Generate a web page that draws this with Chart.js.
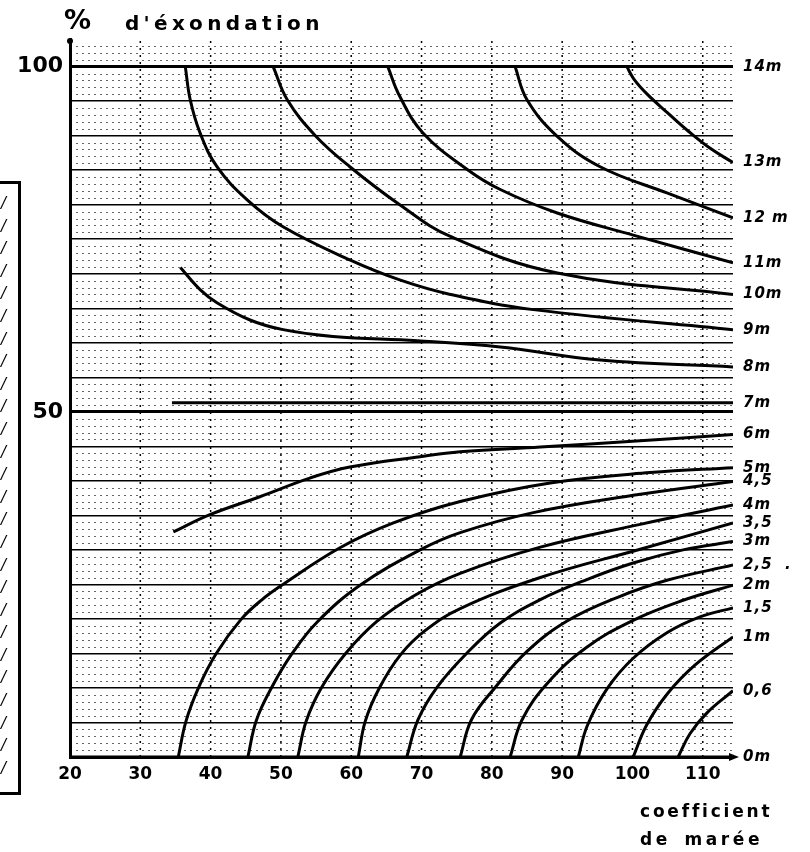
<!DOCTYPE html>
<html>
<head>
<meta charset="utf-8">
<script src="https://cdn.jsdelivr.net/npm/chart.js@4.4.0/dist/chart.umd.min.js"></script>
<style>
  body { margin: 0; background: #fff; }
  #wrap { position: relative; width: 810px; height: 852px; overflow: hidden; background: #fff; }
  canvas { position: absolute; left: 0; top: 0; }
  .t { position: absolute; font-family: 'DejaVu Sans', sans-serif; font-weight: bold; color: #000; white-space: pre; line-height: 1; }
  #side { position: absolute; left: -12px; top: 181px; width: 33px; height: 614px; border: 3px solid #000;
          font-family: 'DejaVu Sans', sans-serif; font-style: italic; font-size: 15px; line-height: 22.6px;
          padding: 8px 0 0 10px; box-sizing: border-box; white-space: pre; }
</style>
</head>
<body>
<div id="wrap">
  <canvas id="graphic1" width="810" height="852"></canvas>
  <div class="t" style="left:64px; top:6px; font-size:27px;">%</div>
  <div class="t" style="left:125px; top:13px; font-size:20px; letter-spacing:4.3px;">d'éxondation</div>
  <div class="t" style="left:640px; top:803px; font-size:17px; letter-spacing:2.8px;">coefficient</div>
  <div class="t" style="left:640px; top:831px; font-size:17px; letter-spacing:3.6px; word-spacing:4px;">de marée</div>
  <div id="side"></div>
</div>
<script>
// axes
const xTicks = [20, 30, 40, 50, 60, 70, 80, 90, 100, 110];
const xDotted = [30, 40, 50, 60, 70, 80, 90, 100, 110];
const yGrid = [0, 5, 10, 15, 20, 25, 30, 35, 40, 45, 50, 55, 60, 65, 70, 75, 80, 85, 90, 95, 100];
const yLabelled = [50, 100];

// courbes : hauteur d'eau -> % d'exondation selon le coefficient
const h14_x = [20, 114.3];
const h14_y = [100, 100];
const h13_x = [99.2, 100.2, 102.2, 105.0, 108.0, 111.0, 114.3];
const h13_y = [100, 98.2, 95.9, 93.3, 90.6, 88.2, 86.1];
const h12_x = [83.3, 85.0, 89.3, 95.4, 104.9, 114.3];
const h12_y = [100, 95.2, 89.9, 85.5, 81.7, 78.1];
const h11_x = [65.2, 66.9, 70.2, 76.5, 81.2, 89.3, 100.1, 114.3];
const h11_y = [100, 95.7, 90.4, 85.1, 82.2, 78.8, 75.6, 71.6];
const h10_x = [48.9, 50.9, 54.9, 59.8, 66.9, 74.1, 89.3, 114.3];
const h10_y = [100, 95.2, 90.0, 85.5, 80.0, 75.4, 70.1, 67.0];
const h9_x = [36.4, 37.1, 38.5, 40.9, 45.2, 50.3, 59.8, 66.9, 74.1, 85.9, 114.3];
const h9_y = [100, 95.2, 90.4, 85.5, 80.7, 76.8, 72.0, 69.1, 67.0, 64.8, 61.9];
const h8_x = [35.7, 38.5, 40.9, 45.6, 50.3, 57.4, 69.4, 81.2, 95.4, 114.3];
const h8_y = [70.9, 67.7, 65.8, 63.3, 61.9, 60.9, 60.3, 59.4, 57.5, 56.5];
const h7_x = [34.5, 114.3];
const h7_y = [51.3, 51.3];
const h6_x = [34.7, 39.9, 47.0, 54.1, 59.8, 69.8, 75.5, 86.9, 101.1, 114.3];
const h6_y = [32.6, 35.1, 37.7, 40.4, 42.0, 43.5, 44.2, 44.9, 45.8, 46.7];
const h5_x = [35.4, 36.5, 38.3, 40.8, 44.3, 47.2, 50.3, 58.4, 66.0, 75.5, 88.3, 102.5, 114.3];
const h5_y = [0, 5.2, 10.1, 15.0, 19.9, 22.7, 25.0, 30.3, 33.9, 37.0, 39.7, 41.2, 41.9];
const h45_x = [45.3, 46.5, 48.7, 51.6, 55.2, 61.3, 69.8, 75.5, 85.9, 100.1, 114.3];
const h45_y = [0, 5.3, 10.1, 15.0, 19.6, 24.9, 30.0, 32.5, 35.4, 37.9, 39.9];
const h4_x = [52.4, 53.6, 55.8, 59.2, 63.6, 69.0, 75.5, 86.9, 101.1, 114.3];
const h4_y = [0, 5.2, 10.1, 15.0, 19.6, 23.4, 26.6, 30.4, 33.7, 36.5];
const h35_x = [61.0, 62.0, 64.0, 67.0, 70.5, 75.5, 86.9, 101.1, 114.3];
const h35_y = [0, 5.2, 10.0, 14.8, 18.3, 21.5, 26.0, 30.1, 33.9];
const h3_x = [67.9, 69.5, 72.2, 76.5, 81.2, 86.9, 93.5, 100.1, 107.2, 114.3];
const h3_y = [0, 5.4, 10.1, 15.1, 19.4, 22.8, 25.7, 28.1, 30.0, 31.2];
const h25_x = [75.5, 77.1, 80.5, 85.0, 90.7, 97.8, 104.9, 114.3];
const h25_y = [0, 5.4, 10.1, 15.3, 19.7, 23.1, 25.6, 27.8];
const h2_x = [82.6, 84.3, 88.0, 93.5, 100.1, 107.2, 114.3];
const h2_y = [0, 5.4, 10.8, 15.9, 19.8, 22.7, 24.9];
const h15_x = [92.3, 93.6, 96.4, 100.1, 104.9, 109.6, 114.3];
const h15_y = [0, 4.6, 9.9, 14.3, 18.0, 20.3, 21.6];
const h1_x = [100.1, 102.0, 105.0, 109.0, 114.3];
const h1_y = [0, 4.6, 9.2, 13.4, 17.4];
const h06_x = [106.5, 108.2, 110.6, 114.3];
const h06_y = [0, 3.4, 6.4, 9.6];
const h0_x = [20, 114.3];
const h0_y = [0, 0];

const curves = [
  ['14m', h14_x, h14_y], ['13m', h13_x, h13_y], ['12 m', h12_x, h12_y], ['11m', h11_x, h11_y],
  ['10m', h10_x, h10_y], ['9m', h9_x, h9_y], ['8m', h8_x, h8_y], ['7m', h7_x, h7_y],
  ['6m', h6_x, h6_y], ['5m', h5_x, h5_y], ['4,5', h45_x, h45_y], ['4m', h4_x, h4_y],
  ['3,5', h35_x, h35_y], ['3m', h3_x, h3_y], ['2,5  .', h25_x, h25_y], ['2m', h2_x, h2_y],
  ['1,5', h15_x, h15_y], ['1m', h1_x, h1_y], ['0,6', h06_x, h06_y], ['0m', h0_x, h0_y]
];

// colonne de traits du cadre voisin (coupé à gauche)
document.getElementById('side').textContent = Array(26).fill('/').join('\n');

// quadrillage pointillé + étiquettes en bout de courbe
const paperPlugin = {
  id: 'paper',
  beforeDatasetsDraw(chart) {
    const { ctx, chartArea: a, scales: { x, y } } = chart;
    ctx.save();
    ctx.strokeStyle = 'rgba(0,0,0,0.6)';
    ctx.lineWidth = 1;
    ctx.setLineDash([2, 4]);
    for (let v = 1; v < 104; v++) {
      if (v % 5 === 0) continue;
      const py = Math.round(y.getPixelForValue(v)) + 0.5;
      ctx.beginPath(); ctx.moveTo(a.left, py); ctx.lineTo(a.right, py); ctx.stroke();
    }
    ctx.strokeStyle = '#000';
    ctx.lineWidth = 1.5;
    ctx.setLineDash([2, 5]);
    xDotted.forEach(v => {
      const px = x.getPixelForValue(v);
      ctx.beginPath(); ctx.moveTo(px, a.bottom); ctx.lineTo(px, a.top); ctx.stroke();
    });
    ctx.restore();
  },
  afterDatasetsDraw(chart) {
    const { ctx, chartArea: a } = chart;
    ctx.save();
    ctx.fillStyle = '#000';
    // flèches des axes
    ctx.beginPath();
    ctx.moveTo(a.right + 6, a.bottom); ctx.lineTo(a.right - 4, a.bottom - 4); ctx.lineTo(a.right - 4, a.bottom + 4);
    ctx.fill();
    ctx.beginPath();
    ctx.arc(a.left, a.top + 2, 3, 0, Math.PI * 2);
    ctx.fill();
    ctx.font = 'italic bold 15px "DejaVu Sans"';
    ctx.letterSpacing = '1px';
    ctx.textBaseline = 'middle';
    chart.data.datasets.forEach((ds, i) => {
      const pts = chart.getDatasetMeta(i).data;
      const last = pts[pts.length - 1];
      ctx.fillText(ds.label, a.right + 10, last.y);
    });
    ctx.restore();
  }
};

const ctx = document.getElementById('graphic1').getContext('2d');
const myChart = new Chart(ctx, {
  type: 'line',
  data: {
    datasets: curves.map(([label, xs, ys]) => ({
      label: label,
      data: xs.map((v, i) => ({ x: v, y: ys[i] })),
      borderColor: '#000',
      borderWidth: 3,
      pointRadius: 0,
      tension: 0.4,
      fill: false
    }))
  },
  options: {
    responsive: false,
    animation: false,
    devicePixelRatio: 1,
    layout: { padding: { left: 0, top: 39, right: 77, bottom: 0 } },
    plugins: { legend: { display: false }, tooltip: { enabled: false } },
    scales: {
      x: {
        type: 'linear', min: 20, max: 114.3,
        afterBuildTicks: s => { s.ticks = xTicks.map(v => ({ value: v })); },
        afterFit: s => { s.height = 95; },
        ticks: { autoSkip: false, maxRotation: 0, padding: 7, color: '#000',
                 font: { family: 'DejaVu Sans', weight: 'bold', size: 17 } },
        grid: { drawTicks: false, color: 'rgba(0,0,0,0)' },
        border: { color: '#000', width: 3 }
      },
      y: {
        type: 'linear', min: 0, max: 104,
        afterBuildTicks: s => { s.ticks = yGrid.map(v => ({ value: v })); },
        afterFit: s => { s.width = 70; },
        ticks: { autoSkip: false, padding: 7, color: '#000',
                 callback: v => yLabelled.includes(v) ? String(v) : '',
                 font: { family: 'DejaVu Sans', weight: 'bold', size: 22 } },
        grid: { drawTicks: false, color: '#000',
                lineWidth: c => (c.tick && (c.tick.value === 50 || c.tick.value === 100)) ? 3 : 1.5 },
        border: { color: '#000', width: 3 }
      }
    }
  },
  plugins: [paperPlugin]
});
</script>
</body>
</html>
